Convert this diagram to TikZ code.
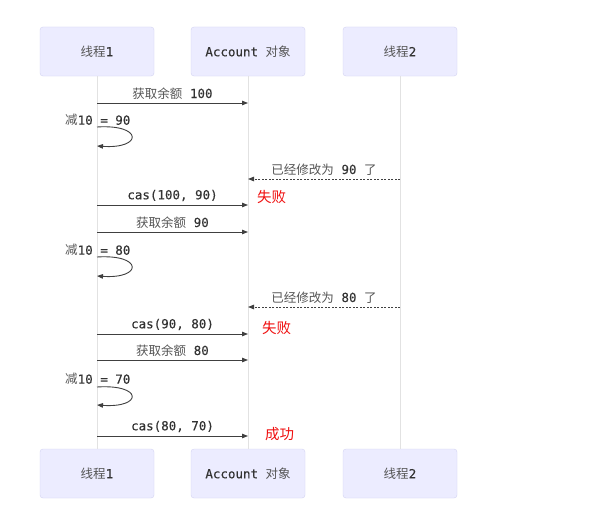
\documentclass[tikz,border=0pt]{standalone}
\usepackage{fontspec}
\setmainfont{Noto Sans CJK SC}
\newfontfamily\cjk{Noto Sans CJK SC}
\newfontfamily\mono[FakeBold=0.3]{DejaVu Sans Mono}
\usetikzlibrary{arrows.meta}
\definecolor{boxfill}{HTML}{ECECFF}
\definecolor{boxline}{HTML}{D4D4F2}
\definecolor{lifeline}{HTML}{E2E2E2}
\definecolor{txt}{HTML}{333333}
\definecolor{cjktxt}{HTML}{555555}
\definecolor{msg}{HTML}{404040}
\definecolor{fail}{HTML}{F01010}
\tikzset{
  actor/.style={draw=boxline, fill=boxfill, rounded corners=3pt, minimum width=114pt, minimum height=49pt, inner sep=0pt, font=\fontsize{12.5}{14}\selectfont, text=cjktxt},
  life/.style={draw=lifeline, line width=0.9pt},
  msgarrow/.style={draw=msg, line width=0.9pt, -{Triangle[length=6pt,width=4.5pt]}},
  retarrow/.style={draw=msg, line width=0.9pt, dash pattern=on 2pt off 1.5pt, -{Triangle[length=6pt,width=4.5pt]}},
  lbl/.style={font=\fontsize{12.5}{14}\selectfont, text=cjktxt, inner sep=0pt},
  note/.style={font=\fontsize{14.5}{16}\selectfont, text=fail, inner sep=0pt, anchor=west},
}
\newcommand{\mt}[1]{{\mono\color{txt}#1}}
\begin{document}
\begin{tikzpicture}[x=1pt,y=-1pt]
\useasboundingbox[fill=white] (0,0) rectangle (593,519);
% actors
\node[actor] (t1) at (97,51.5) {线程\mt{1}};
\node[actor] (acc) at (248,51.5) {\mt{Account~}对象};
\node[actor] (t2) at (400,51.5) {线程\mt{2}};
\node[actor] (t1b) at (97,473.5) {线程\mt{1}};
\node[actor] (accb) at (248,473.5) {\mt{Account~}对象};
\node[actor] (t2b) at (400,473.5) {线程\mt{2}};
% lifelines
\draw[life] (t1.south) -- (t1b.north);
\draw[life] (acc.south) -- (accb.north);
\draw[life] (t2.south) -- (t2b.north);
% y coordinates of messages
\foreach \n/\y in {a/103, c/205, d/232, g/334, h/360, k/436} {
  \coordinate (L\n) at (97,\y);
  \coordinate (A\n) at (248,\y);
}
\foreach \n/\y in {b/179, f/307} {
  \coordinate (A\n) at (248,\y);
  \coordinate (R\n) at (400,\y);
}
% message 1
\draw[msgarrow] (La) -- node[lbl, above=3.5pt] {获取余额\mt{~100}} (Aa);
% self loop 1
\coordinate (s1) at (97,127);
\coordinate (e1) at (97,146);
\node[lbl, anchor=west] (n1) at (65,120) {减\mt{10 = 90}};
\draw[msgarrow] (s1) .. controls (143,124) and (143,149) .. (e1);
% return 1
\draw[retarrow] (Rb) -- node[lbl, above=3.5pt] {已经修改为\mt{~90~}了} (Ab);
% cas 1
\draw[msgarrow] (Lc) -- node[lbl, above=3.5pt] {\mt{cas(100, 90)}} (Ac);
\node[note] (f1) at (257,197) {失败};
% get 2
\draw[msgarrow] (Ld) -- node[lbl, above=3.5pt] {获取余额\mt{~90}} (Ad);
% self loop 2
\coordinate (s2) at (97,257);
\coordinate (e2) at (97,276);
\node[lbl, anchor=west] (n2) at (65,250) {减\mt{10 = 80}};
\draw[msgarrow] (s2) .. controls (143,254) and (143,279) .. (e2);
% return 2
\draw[retarrow] (Rf) -- node[lbl, above=3.5pt] {已经修改为\mt{~80~}了} (Af);
% cas 2
\draw[msgarrow] (Lg) -- node[lbl, above=3.5pt] {\mt{cas(90, 80)}} (Ag);
\node[note] (f2) at (262,328) {失败};
% get 3
\draw[msgarrow] (Lh) -- node[lbl, above=3.5pt] {获取余额\mt{~80}} (Ah);
% self loop 3
\coordinate (s3) at (97,387);
\coordinate (e3) at (97,405);
\node[lbl, anchor=west] (n3) at (65,379) {减\mt{10 = 70}};
\draw[msgarrow] (s3) .. controls (143,384) and (143,408) .. (e3);
% cas 3
\draw[msgarrow] (Lk) -- node[lbl, above=3.5pt] {\mt{cas(80, 70)}} (Ak);
\node[note] (ok) at (265,434) {成功};
\end{tikzpicture}
\end{document}
